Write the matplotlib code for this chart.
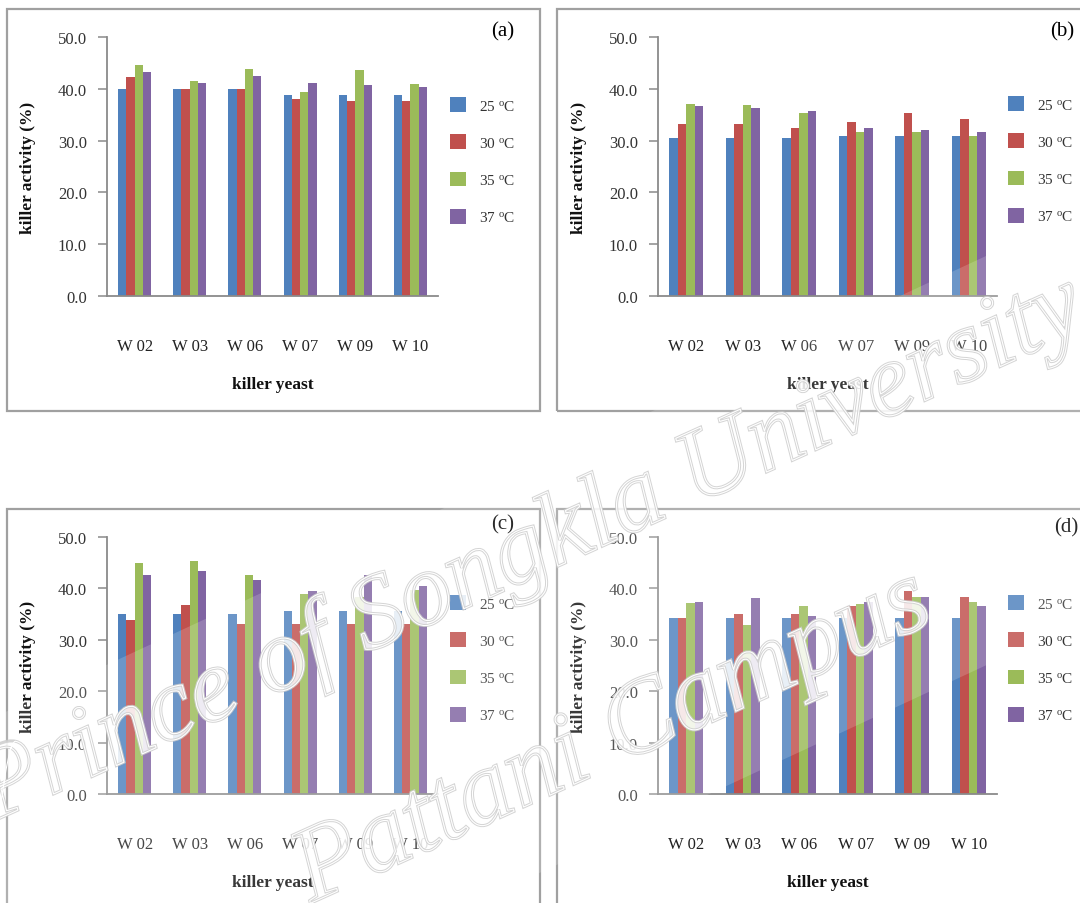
import matplotlib
matplotlib.use("Agg")
import matplotlib.pyplot as plt
from matplotlib.patches import Rectangle, Polygon, PathPatch
from matplotlib.textpath import TextPath
from matplotlib.font_manager import FontProperties
from matplotlib.transforms import Affine2D, IdentityTransform
import numpy as np

plt.rcParams["font.family"] = ["Liberation Serif", "DejaVu Serif"]
plt.rcParams["mathtext.fontset"] = "custom"
plt.rcParams["mathtext.rm"] = "Liberation Serif"
plt.rcParams["mathtext.it"] = "Liberation Serif:italic"

# ---- data ---------------------------------------------------------------
strains = ["W 02", "W 03", "W 06", "W 07", "W 09", "W 10"]
temperatures = [r"25 $^{\mathrm{o}}$C", r"30 $^{\mathrm{o}}$C",
                r"35 $^{\mathrm{o}}$C", r"37 $^{\mathrm{o}}$C"]
panel_tags = ["(a)", "(b)", "(c)", "(d)"]

# killer activity (%) per temperature (rows) and strain (columns)
activity_a = [
    [40.0, 40.0, 40.0, 38.8, 38.8, 38.8],
    [42.2, 40.0, 40.0, 38.0, 37.6, 37.6],
    [44.6, 41.6, 43.9, 39.3, 43.6, 40.9],
    [43.3, 41.2, 42.4, 41.2, 40.7, 40.3],
]
activity_b = [
    [30.5, 30.5, 30.5, 30.8, 30.8, 30.8],
    [33.3, 33.3, 32.4, 33.6, 35.4, 34.1],
    [37.1, 36.9, 35.4, 31.7, 31.7, 30.8],
    [36.6, 36.3, 35.7, 32.4, 32.0, 31.7],
]
activity_c = [
    [35.0, 35.0, 35.0, 35.7, 35.7, 35.7],
    [33.9, 36.8, 33.1, 33.1, 33.1, 33.1],
    [44.9, 45.3, 42.7, 39.0, 38.4, 39.7],
    [42.7, 43.3, 41.6, 39.4, 42.7, 40.4],
]
activity_d = [
    [34.2, 34.2, 34.2, 34.2, 34.2, 34.2],
    [34.2, 35.0, 35.0, 36.6, 39.4, 38.3],
    [37.2, 32.8, 36.6, 37.0, 38.3, 37.4],
    [37.4, 38.1, 34.7, 37.4, 38.3, 36.6],
]
y_ticks = [0, 10, 20, 30, 40, 50]
watermark_lines = ["Prince of Songkla University", "Pattani Campus"]

# ---- styling -------------------------------------------------------------
colors = ["#4F81BD", "#C0504D", "#9BBB59", "#8064A2"]
W, H = 1080, 904
fig = plt.figure(figsize=(W / 100, H / 100), dpi=100)
fig.patch.set_facecolor("white")


def fx(x):
    return x / W


def fy(y):
    return 1 - y / H


# pixel layout: axes (left, right, top, bottom), frame (x0, y0, x1, y1),
# legend patch left x and first legend row y, tag position
layouts = [
    dict(ax=(107, 438, 38, 297), frame=(7, 10, 540, 412), leg=(444, 102), tag=(503, 32)),
    dict(ax=(658, 997, 38, 297), frame=(557, 10, 1090, 412), leg=(1002, 101), tag=(1062, 32)),
    dict(ax=(107, 438, 538, 795), frame=(7, 510, 540, 920), leg=(444, 600), tag=(503, 525)),
    dict(ax=(658, 997, 538, 795), frame=(557, 510, 1090, 920), leg=(1002, 600), tag=(1066, 528)),
]
datasets = [activity_a, activity_b, activity_c, activity_d]

x = np.arange(len(strains))
bar_w = 0.15

for tag, data, lay in zip(panel_tags, datasets, layouts):
    x0, y0, x1, y1 = lay["frame"]
    fig.patches.append(Rectangle((fx(x0), fy(y1)), (x1 - x0) / W, (y1 - y0) / H,
                                 transform=fig.transFigure, fill=False,
                                 edgecolor="#a0a0a0", linewidth=1.6, zorder=0))

    l, r, t, b = lay["ax"]
    ax = fig.add_axes([fx(l), fy(b), (r - l) / W, (b - t) / H])
    for i, (vals, col) in enumerate(zip(data, colors)):
        ax.bar(x + (i - 1.5) * bar_w, vals, width=bar_w, color=col,
               edgecolor="none", label=temperatures[i], zorder=2)

    ax.set_xlim(-0.5, len(strains) - 0.5)
    ax.set_ylim(0, 50)
    ax.set_yticks(y_ticks)
    ax.set_yticklabels([f"{v:.1f}" for v in y_ticks])
    ax.set_xticks(x)
    ax.set_xticklabels(strains)
    for s in ["top", "right"]:
        ax.spines[s].set_visible(False)
    for s in ["left", "bottom"]:
        ax.spines[s].set_color("#8a8a8a")
        ax.spines[s].set_linewidth(1.3)
    ax.tick_params(axis="y", direction="out", length=6.5, width=1.1,
                   color="#8a8a8a", pad=8, labelsize=12, labelcolor="#333333")
    ax.tick_params(axis="x", length=0, pad=30, labelsize=12, labelcolor="#222222")
    ax.set_facecolor("none")

    # axis titles
    fig.text(fx((l + r) / 2), fy(b + 88), "killer yeast", ha="center", va="center",
             fontsize=12.5, fontweight="bold", color="#111111")
    fig.text(fx(l - 79), fy((t + b) / 2), "killer activity (%)", ha="center",
             va="center", rotation=90, fontsize=12.5, fontweight="bold", color="#111111")

    # legend
    lx, ly = lay["leg"]
    handles, labels = ax.get_legend_handles_labels()
    leg = ax.legend(handles, labels, loc="upper left",
                    bbox_to_anchor=(fx(lx - 6), fy(ly - 16)),
                    bbox_transform=fig.transFigure, frameon=False,
                    fontsize=11, handlelength=1.0, handleheight=1.1,
                    handletextpad=0.9, labelspacing=1.42, borderpad=0.3)
    for txt in leg.get_texts():
        txt.set_color("#333333")

    tx, ty = lay["tag"]
    fig.text(fx(tx), fy(ty), tag, ha="center", va="center", fontsize=15, color="black")

# ---- watermark -----------------------------------------------------------
slope = -0.465
band = Polygon([[fx(0), fy(297 - slope * 900)],
                [fx(W), fy(297 + slope * (W - 900))],
                [fx(W), fy(790 + slope * (W - 720))],
                [fx(0), fy(790 - slope * 720)]],
               closed=True, transform=fig.transFigure, facecolor="white",
               edgecolor="none", alpha=0.17, zorder=10)
fig.patches.append(band)

wm_font = FontProperties(family="Liberation Serif", style="italic")
wm_places = [(530, 552, 104), (612, 742, 106)]   # centre x, centre y (px from top), size px
for line, (cx, cy, size) in zip(watermark_lines, wm_places):
    tp = TextPath((0, 0), line, size=size, prop=wm_font)
    ext = tp.get_extents()
    tr = (Affine2D().translate(-(ext.x0 + ext.x1) / 2, -(ext.y0 + ext.y1) / 2)
          .rotate_deg(24.3).translate(cx, H - cy))
    path = tr.transform_path(tp)
    fig.patches.append(PathPatch(path, transform=IdentityTransform(),
                                 facecolor=(1, 1, 1, 0.12), edgecolor="#cdcdcd",
                                 linewidth=2.2, alpha=0.85, zorder=11))
    fig.patches.append(PathPatch(path, transform=IdentityTransform(),
                                 facecolor="none", edgecolor="white",
                                 linewidth=0.8, zorder=12))

fig.savefig("out.png", dpi=100, facecolor="white")
